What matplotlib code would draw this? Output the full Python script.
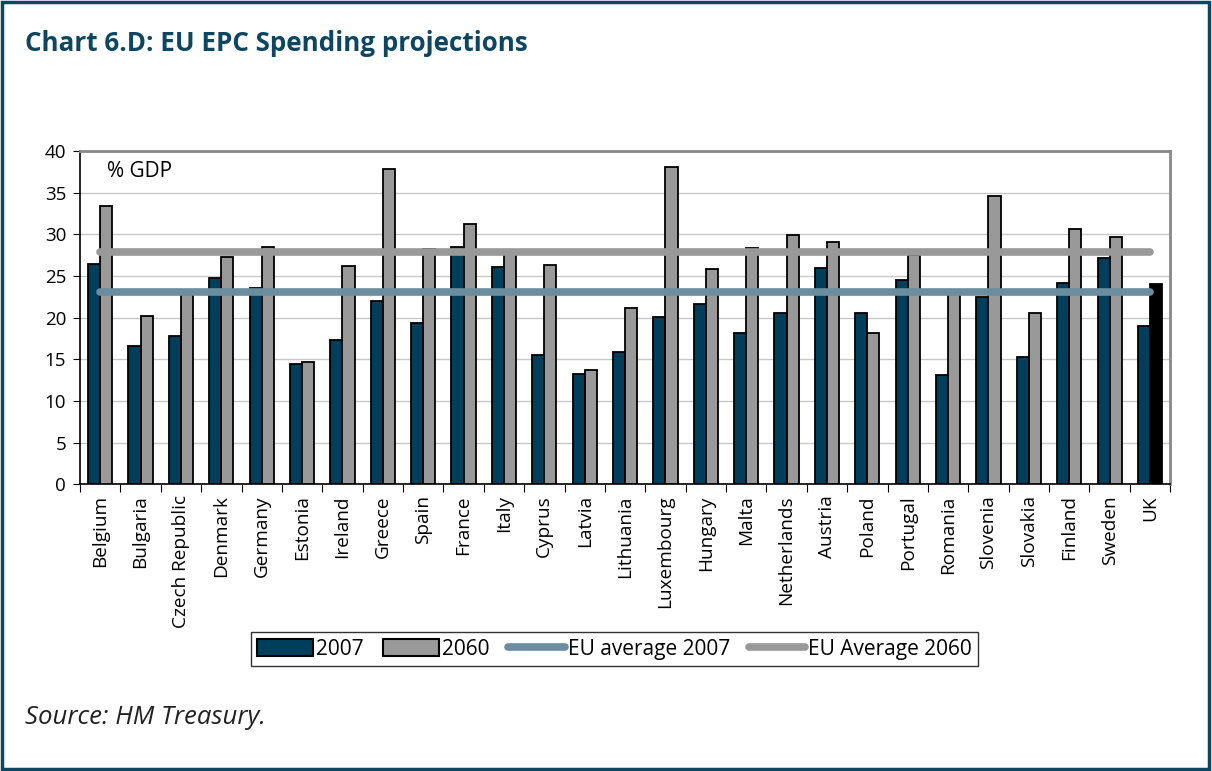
import numpy as np
import matplotlib.pyplot as plt
from matplotlib.patches import Rectangle

plt.rcParams['font.family'] = ['Open Sans', 'DejaVu Sans']

# EU EPC age-related spending projections, % of GDP
countries = ['Belgium', 'Bulgaria', 'Czech Republic', 'Denmark', 'Germany', 'Estonia',
             'Ireland', 'Greece', 'Spain', 'France', 'Italy', 'Cyprus', 'Latvia',
             'Lithuania', 'Luxembourg', 'Hungary', 'Malta', 'Netherlands', 'Austria',
             'Poland', 'Portugal', 'Romania', 'Slovenia', 'Slovakia', 'Finland',
             'Sweden', 'UK']
spend_2007 = [26.5, 16.6, 17.8, 24.8, 23.6, 14.4, 17.3, 22.0, 19.3, 28.5, 26.1, 15.5, 13.2,
              15.9, 20.1, 21.6, 18.2, 20.5, 26.0, 20.5, 24.5, 13.1, 22.5, 15.3, 24.2,
              27.2, 19.0]
spend_2060 = [33.4, 20.2, 23.1, 27.3, 28.5, 14.7, 26.2, 37.9, 28.3, 31.2, 27.6, 26.3, 13.7,
              21.2, 38.1, 25.8, 28.4, 29.9, 29.1, 18.1, 27.5, 23.0, 34.6, 20.5, 30.6,
              29.7, 24.1]
eu_avg_2007 = 23.1
eu_avg_2060 = 27.9

NAVY = '#003f5c'
GREY = '#999999'
STEEL = '#6a8e9e'
TEAL = '#0d4660'

fig = plt.figure(figsize=(12.12, 7.71), dpi=100)
ax = fig.add_axes([0.066, 0.372, 0.8995, 0.432])

x = np.arange(len(countries))
w = 0.3
ax.bar(x - w / 2, spend_2007, w, color=NAVY, edgecolor='black', linewidth=1.3, zorder=3)
colors_2060 = [GREY] * (len(countries) - 1) + ['black']
ax.bar(x + w / 2, spend_2060, w, color=colors_2060, edgecolor='black', linewidth=1.3,
       zorder=3)

l07, = ax.plot([x[0], x[-1]], [eu_avg_2007] * 2, color=STEEL, lw=5.5,
               solid_capstyle='round', zorder=4)
l60, = ax.plot([x[0], x[-1]], [eu_avg_2060] * 2, color=GREY, lw=5.5,
               solid_capstyle='round', zorder=4)

ax.set_xlim(-0.5, len(countries) - 0.5)
ax.set_ylim(0, 40)
ax.set_yticks(np.arange(0, 41, 5))
ax.yaxis.grid(True, color='#c8c8c8', lw=1, zorder=0)
ax.tick_params(axis='y', labelsize=13.5, direction='out', length=5, pad=5)

# category ticks sit between the groups, labels in the middle
ax.set_xticks(np.arange(-0.5, len(countries)), minor=False)
ax.set_xticklabels([])
ax.set_xticks(x, minor=True)
ax.set_xticklabels(countries, minor=True, rotation=90, fontsize=13.7, va='top')
ax.tick_params(axis='x', which='major', direction='out', length=6)
ax.tick_params(axis='x', which='minor', length=0, pad=8)

for side in ['top', 'right']:
    ax.spines[side].set_color('#888888')
    ax.spines[side].set_linewidth(2)
for side in ['left', 'bottom']:
    ax.spines[side].set_linewidth(1.2)

ax.text(0.025, 0.94, '% GDP', transform=ax.transAxes, fontsize=15, va='center')

# legend uses a plain grey patch for 2060 (UK bar is highlighted in black)
h60 = Rectangle((0, 0), 1, 1, facecolor=GREY, edgecolor='black', linewidth=1.5)
h07 = Rectangle((0, 0), 1, 1, facecolor=NAVY, edgecolor='black', linewidth=1.5)
leg = fig.legend([h07, h60, l07, l60],
                 ['2007', '2060', 'EU average 2007', 'EU Average 2060'],
                 loc='center', bbox_to_anchor=(0.507, 0.158), ncol=4, fontsize=15,
                 frameon=True, fancybox=False, edgecolor='black', handlelength=2.7,
                 handleheight=0.85, handletextpad=0.15, columnspacing=0.9, borderpad=0.3,
                 borderaxespad=0)
leg.get_frame().set_linewidth(1)

fig.text(0.021, 0.944, 'Chart 6.D: EU EPC Spending projections', fontsize=18.7,
         fontweight='bold', color=TEAL, va='center')
fig.text(0.021, 0.07, 'Source: HM Treasury.', fontsize=18.5, style='italic',
         color='#222222', va='center')

fig.add_artist(Rectangle((0.0015, 0.002), 0.996, 0.996, transform=fig.transFigure,
                         fill=False, edgecolor=TEAL, lw=2.5))

fig.savefig('out.png', dpi=100)
